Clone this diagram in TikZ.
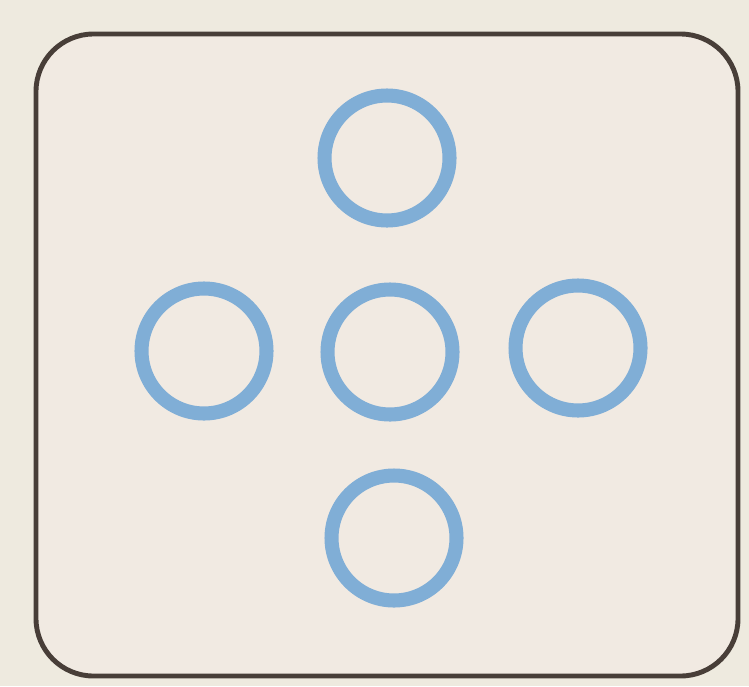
\documentclass[tikz,border=0pt]{standalone}
\definecolor{paper}{RGB}{238,234,223}
\definecolor{inner}{RGB}{241,234,226}
\definecolor{ring}{RGB}{128,174,214}
\definecolor{frame}{RGB}{72,62,56}
\begin{document}
\begin{tikzpicture}[x=0.02cm,y=-0.02cm,
  ringnode/.style={circle,draw=ring,line width=8pt,minimum size=2.5cm,inner sep=0pt}]
\fill[paper] (0,0) rectangle (749,686);
\useasboundingbox (0,0) rectangle (749,686);
\draw[frame,fill=inner,line width=2.8pt,rounded corners=1.15cm] (36,34) rectangle (738,676);
\node[ringnode] (top) at (387,158) {};
\node[ringnode] (left) at (204,351) {};
\node[ringnode] (mid) at (390,352) {};
\node[ringnode] (right) at (578,348) {};
\node[ringnode] (bottom) at (394,538) {};
\end{tikzpicture}
\end{document}
